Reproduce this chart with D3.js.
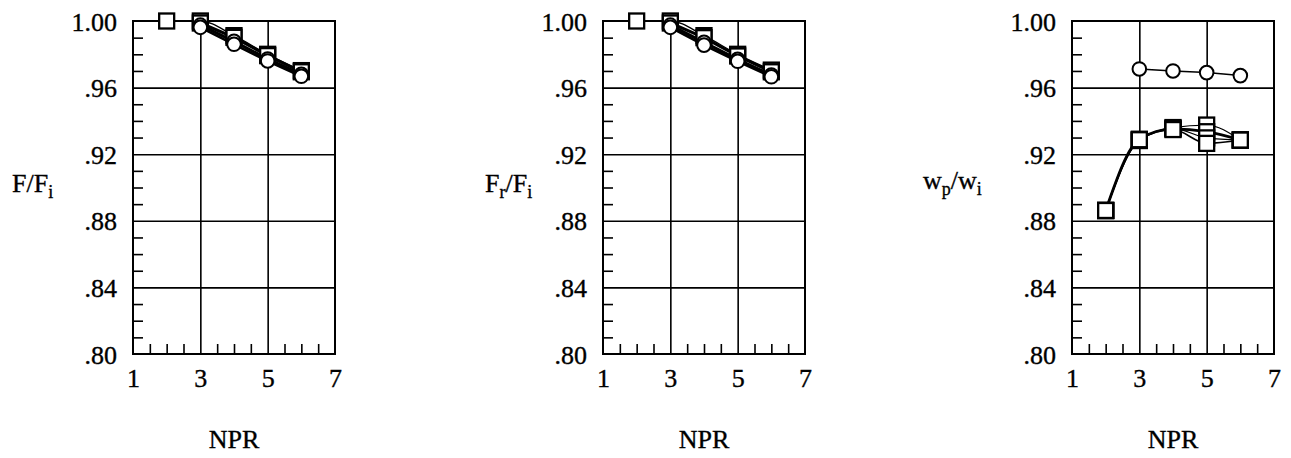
<!DOCTYPE html>
<html>
<head>
<meta charset="utf-8">
<script src="https://cdn.jsdelivr.net/npm/d3@7"></script>
<style>
  body { margin: 0; background: #fff; }
  svg { display: block; }
  text { font-family: "Liberation Serif", "Times New Roman", Times, serif; }
</style>
</head>
<body>
<div id="chart"></div>
<script>
// axis values
const xTicks = [1, 3, 5, 7]
const xMinor = [1.5, 2, 2.5, 3.5, 4, 4.5, 5.5, 6, 6.5]
const xGrid = [3, 5]
const yTicks = [1.00, 0.96, 0.92, 0.88, 0.84, 0.80]
const yTickLabels = ['1.00', '.96', '.92', '.88', '.84', '.80']
const yGrid = [0.96, 0.92, 0.88, 0.84]

// F/Fi
const thrustSqA = [[2, 1.000], [3, 1.000], [4, 0.9912], [5, 0.9800], [6, 0.9702]]
const thrustSqB = [[3, 0.9988], [4, 0.9902], [5, 0.9792], [6, 0.9695]]
const thrustCirA = [[3, 0.9975], [4, 0.9878], [5, 0.9772], [6, 0.9680]]
const thrustCirB = [[3, 0.9962], [4, 0.9860], [5, 0.9760], [6, 0.9668]]

// Fr/Fi
const resultSqA = [[2, 1.000], [3, 1.000], [4, 0.9912], [5, 0.9800], [6, 0.9705]]
const resultSqB = [[3, 0.9988], [4, 0.9900], [5, 0.9790], [6, 0.9695]]
const resultCirA = [[3, 0.9975], [4, 0.9872], [5, 0.9770], [6, 0.9675]]
const resultCirB = [[3, 0.9962], [4, 0.9855], [5, 0.9758], [6, 0.9665]]

// wp/wi
const flowCir = [[3, 0.9712], [4, 0.9700], [5, 0.9690], [6, 0.9672]]
const flowSqA = [[2, 0.8862], [3, 0.9285], [4, 0.9360], [5, 0.9375], [6, 0.9285]]
const flowSqB = [[2, 0.8862], [3, 0.9290], [4, 0.9352], [5, 0.9335], [6, 0.9285]]
const flowSqC = [[2, 0.8862], [3, 0.9282], [4, 0.9355], [5, 0.9298], [6, 0.9285]]
const flowSqD = [[2, 0.8862], [3, 0.9287], [4, 0.9348], [5, 0.9265], [6, 0.9285]]

const FONT = '"Liberation Serif", "Times New Roman", Times, serif'
const W = 202, H = 333, TOP = 21

const panels = [
	{
		left: 133, labelX: 12, labelY: 192,
		label: [['F/F', 0], ['i', 1]],
		series: [
			{ data: thrustSqA, shape: 'square', width: 1.3, curve: d3.curveMonotoneX },
			{ data: thrustSqB, shape: 'square', width: 3, curve: d3.curveLinear },
			{ data: thrustCirA, shape: 'circle', width: 3, curve: d3.curveLinear },
			{ data: thrustCirB, shape: 'circle', width: 2.6, curve: d3.curveLinear }
		]
	},
	{
		left: 603, labelX: 485, labelY: 192,
		label: [['F', 0], ['r', 1], ['/F', 0], ['i', 1]],
		series: [
			{ data: resultSqA, shape: 'square', width: 1.3, curve: d3.curveMonotoneX },
			{ data: resultSqB, shape: 'square', width: 3, curve: d3.curveLinear },
			{ data: resultCirA, shape: 'circle', width: 3, curve: d3.curveLinear },
			{ data: resultCirB, shape: 'circle', width: 2.6, curve: d3.curveLinear }
		]
	},
	{
		left: 1072, labelX: 923, labelY: 189,
		label: [['w', 0], ['p', 1], ['/w', 0], ['i', 1]],
		series: [
			{ data: flowCir, shape: 'circle', width: 1.5, curve: d3.curveLinear },
			{ data: flowSqA, shape: 'square', width: 1.3, curve: d3.curveMonotoneX },
			{ data: flowSqB, shape: 'square', width: 2.8, curve: d3.curveMonotoneX },
			{ data: flowSqC, shape: 'square', width: 1.3, curve: d3.curveMonotoneX },
			{ data: flowSqD, shape: 'square', width: 1.6, curve: d3.curveMonotoneX }
		]
	}
]

const svg = d3.select('#chart')
	.append('svg')
		.attr('width', 1291)
		.attr('height', 458)
		.style('font-family', FONT)

const xScale = d3.scaleLinear().domain([1, 7]).range([0, W])
const yScale = d3.scaleLinear().domain([0.80, 1.00]).range([H, 0])
const yMinor = d3.range(0.81, 1.0, 0.01).filter(v => !yTicks.some(t => Math.abs(t - v) < 1e-6))

function styleAxis(g) {
	g.attr('font-family', null)
	g.select('.domain').remove()
	g.selectAll('line').attr('stroke', '#000').attr('stroke-width', 1.6)
}

function styleText(sel) {
	sel.attr('font-size', 26)
		.attr('fill', '#000')
		.attr('stroke', '#000')
		.attr('stroke-width', 0.35)
}

panels.forEach(p => {
	const g = svg.append('g').attr('transform', `translate(${p.left}, ${TOP})`)

	// grid
	g.append('g')
		.call(d3.axisLeft(yScale).tickValues(yGrid).tickSize(-W).tickFormat(''))
		.call(styleAxis)
	g.append('g')
		.attr('transform', `translate(0, ${H})`)
		.call(d3.axisBottom(xScale).tickValues(xGrid).tickSize(-H).tickFormat(''))
		.call(styleAxis)

	// minor ticks, inside the frame
	g.append('g')
		.call(d3.axisLeft(yScale).tickValues(yMinor).tickSize(-10).tickFormat(''))
		.call(styleAxis)
	g.append('g')
		.attr('transform', `translate(0, ${H})`)
		.call(d3.axisBottom(xScale).tickValues(xMinor).tickSize(-10).tickFormat(''))
		.call(styleAxis)

	// tick labels
	const yAx = g.append('g')
		.call(d3.axisLeft(yScale).tickValues(yTicks).tickSize(0).tickPadding(16)
			.tickFormat((d, i) => yTickLabels[i]))
		.call(styleAxis)
	yAx.selectAll('text').call(styleText).attr('dy', 9)

	const xAx = g.append('g')
		.attr('transform', `translate(0, ${H})`)
		.call(d3.axisBottom(xScale).tickValues(xTicks).tickSize(0).tickFormat(d3.format('d')))
		.call(styleAxis)
	xAx.selectAll('text').call(styleText).attr('y', 33).attr('dy', 0)

	// frame
	g.append('rect')
		.attr('width', W)
		.attr('height', H)
		.attr('fill', 'none')
		.attr('stroke', '#000')
		.attr('stroke-width', 2)

	// lines
	p.series.forEach(s => {
		const line = d3.line()
			.x(d => xScale(d[0]))
			.y(d => yScale(d[1]))
			.curve(s.curve)
		g.append('path')
			.datum(s.data)
			.attr('d', line)
			.attr('fill', 'none')
			.attr('stroke', '#000')
			.attr('stroke-width', s.width)
	})

	// markers
	p.series.forEach(s => {
		const m = g.append('g')
		if (s.shape === 'square') {
			m.selectAll('rect')
				.data(s.data)
				.enter()
				.append('rect')
					.attr('x', d => xScale(d[0]) - 7.5)
					.attr('y', d => yScale(d[1]) - 7.5)
					.attr('width', 15)
					.attr('height', 15)
					.attr('fill', '#fff')
					.attr('stroke', '#000')
					.attr('stroke-width', 2.3)
		} else {
			m.selectAll('circle')
				.data(s.data)
				.enter()
				.append('circle')
					.attr('cx', d => xScale(d[0]))
					.attr('cy', d => yScale(d[1]))
					.attr('r', 6.8)
					.attr('fill', '#fff')
					.attr('stroke', '#000')
					.attr('stroke-width', 2)
		}
	})

	// y label with subscripts
	const lab = svg.append('text')
		.attr('x', p.labelX)
		.attr('y', p.labelY)
		.call(styleText)
	let sub = false
	p.label.forEach(([t, isSub]) => {
		const dy = isSub && !sub ? 6 : (!isSub && sub ? -6 : 0)
		lab.append('tspan')
			.attr('dy', dy)
			.attr('font-size', isSub ? 18 : 26)
			.text(t)
		sub = !!isSub
	})

	// x label
	svg.append('text')
		.attr('x', p.left + W / 2)
		.attr('y', 448)
		.attr('text-anchor', 'middle')
		.call(styleText)
		.text('NPR')
})
</script>
</body>
</html>
